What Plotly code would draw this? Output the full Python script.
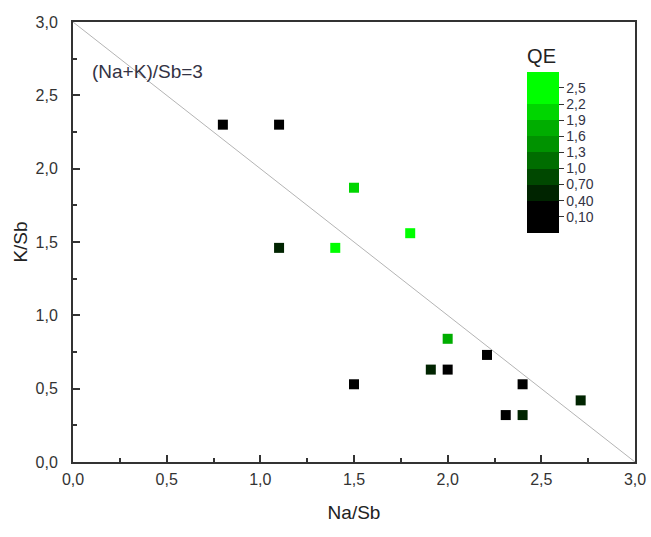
import plotly.graph_objects as go

# Data
na_sb = [0.80, 1.10, 1.10, 1.50, 1.40, 1.80, 2.00, 2.21, 1.91, 2.00, 1.50, 2.40, 2.71, 2.31, 2.40]
k_sb = [2.30, 2.30, 1.46, 1.87, 1.46, 1.56, 0.84, 0.73, 0.63, 0.63, 0.53, 0.53, 0.42, 0.32, 0.32]
qe = [0.10, 0.10, 0.55, 2.00, 2.50, 2.50, 1.60, 0.10, 0.60, 0.20, 0.10, 0.10, 0.60, 0.10, 0.60]

axis_ticks = [0.0, 0.5, 1.0, 1.5, 2.0, 2.5, 3.0]
axis_ticktext = ["0,0", "0,5", "1,0", "1,5", "2,0", "2,5", "3,0"]
minor_ticks = [0.25, 0.75, 1.25, 1.75, 2.25, 2.75]

qe_ticks = [0.10, 0.40, 0.70, 1.0, 1.3, 1.6, 1.9, 2.2, 2.5]
qe_ticktext = ["0,10", "0,40", "0,70", "1,0", "1,3", "1,6", "1,9", "2,2", "2,5"]
qe_levels = [-0.2, 0.4, 0.7, 1.0, 1.3, 1.6, 1.9, 2.2, 2.8]
qe_colors = ["#000000", "#002400", "#004800", "#006d00", "#009200", "#00ad00", "#00d600", "#00ff00"]

line_x = [0.0, 3.0]
line_y = [3.0, 0.0]

# build discrete colorscale
cmin, cmax = qe_levels[0], qe_levels[-1]
cs = []
for i, c in enumerate(qe_colors):
    a = (qe_levels[i] - cmin) / (cmax - cmin)
    b = (qe_levels[i + 1] - cmin) / (cmax - cmin)
    cs.append([a, c])
    cs.append([b, c])

font_family = "Liberation Sans, Arial, sans-serif"

fig = go.Figure()
fig.add_trace(go.Scatter(
    x=line_x, y=line_y, mode="lines",
    line=dict(color="#b4b4b4", width=1),
    hoverinfo="skip", showlegend=False,
))
fig.add_trace(go.Scatter(
    x=na_sb, y=k_sb, mode="markers",
    marker=dict(
        symbol="square", size=10, color=qe,
        colorscale=cs, cmin=cmin, cmax=cmax,
        line=dict(width=0),
        colorbar=dict(
            title=dict(text="QE", side="top", font=dict(size=20, color="#222", family=font_family)),
            x=0.808, xanchor="left", xref="paper", xpad=0,
            y=0.948, yanchor="top", yref="paper", ypad=0,
            len=0.428, lenmode="fraction",
            thickness=32, outlinewidth=0,
            tickmode="array", tickvals=qe_ticks, ticktext=qe_ticktext,
            ticks="outside", ticklen=5, tickcolor="#333",
            tickfont=dict(size=14, color="#334", family=font_family),
            bgcolor="rgba(0,0,0,0)",
        ),
    ),
    showlegend=False,
))

fig.add_annotation(
    x=0.09, y=2.66, xref="x", yref="y", text="(Na+K)/Sb=3",
    showarrow=False, xanchor="left", yanchor="middle",
    font=dict(size=19, color="#333344", family=font_family),
)

axis_common = dict(
    range=[0, 3], tickmode="array", tickvals=axis_ticks, ticktext=axis_ticktext,
    ticks="inside", ticklen=7, tickwidth=1.5, tickcolor="#333",
    showline=True, linecolor="#333", linewidth=2, mirror=True,
    showgrid=False, zeroline=False, automargin=False,
    tickfont=dict(size=16, color="#333", family=font_family),
    minor=dict(tickmode="array", tickvals=minor_ticks, ticks="inside", ticklen=4, tickcolor="#333", showgrid=False),
)

fig.update_layout(
    width=651, height=537,
    margin=dict(l=73, r=16, t=22, b=75),
    paper_bgcolor="white", plot_bgcolor="white",
    font=dict(family=font_family),
    xaxis=dict(axis_common, ticklabelstandoff=2, title=dict(text="Na/Sb", font=dict(size=19, color="#222"), standoff=18)),
    yaxis=dict(axis_common, ticklabelstandoff=10, title=dict(text="K/Sb", font=dict(size=19, color="#222"), standoff=3)),
)

fig.write_html("out.html")
